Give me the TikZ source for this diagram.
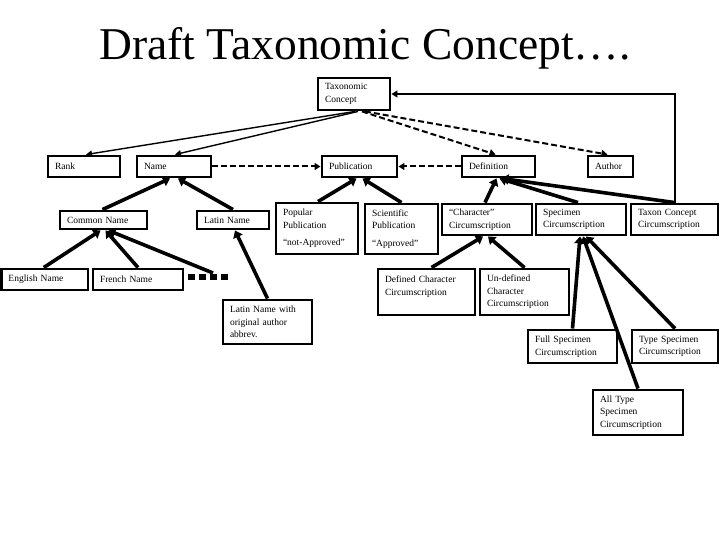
\documentclass[tikz,border=0pt]{standalone}
\usepackage{fontspec}
\setmainfont{Liberation Serif}
\usetikzlibrary{arrows.meta,calc}
\tikzset{
 boxst/.style={draw, line width=2.9pt, fill=white, align=left, inner xsep=7pt, inner ysep=0pt, font=\fontsize{9.5}{12.5}\selectfont},
 thickarrow/.style={line width=3.6pt, -{Triangle[length=7pt,width=10pt]}},
 thinarrow/.style={line width=1.4pt, -{Triangle[length=6pt,width=6pt]}},
 dasharrow/.style={line width=2pt, dash pattern=on 6pt off 3pt, -{Triangle[length=6pt,width=7pt]}},
 linkline/.style={line width=2pt, -{Triangle[length=6pt,width=7pt]}}
}
\newcommand\bx[6]{%
 \pgfmathsetmacro\myBW{#4-#2}\pgfmathsetmacro\myBH{#5-#3}\pgfmathsetmacro\myTW{#4-#2-14}%
 \node[boxst, minimum width=\myBW pt, minimum height=\myBH pt, text width=\myTW pt] (#1) at ({(#2+#4)/2},{(#3+#5)/2}) {#6};}
\begin{document}
\begin{tikzpicture}[x=1pt,y=-1pt]
\useasboundingbox (0,0) rectangle (720,540);
\node[font=\fontsize{45.5}{52}\selectfont, anchor=base] (title) at (365,60) {Draft Taxonomic Concept….};
\bx{tc}{318}{78}{390}{110}{Taxonomic\\Concept}
\bx{rank}{48}{156}{120}{177}{Rank}
\bx{name}{137}{156}{211}{177}{Name}
\bx{pub}{322}{156}{397}{177}{Publication}
\bx{defn}{462}{156}{535}{177}{Definition}
\bx{auth}{588}{156}{633}{177}{Author}
\bx{cn}{60}{211}{147}{229}{Common Name}
\bx{ln}{197}{211}{269}{229}{Latin Name}
\bx{pp}{276}{203}{358}{254}{Popular\\Publication\\[5pt]“not-Approved”}
\bx{sp}{365}{204}{438}{254}{Scientific\\Publication\\[5pt]“Approved”}
\bx{cc}{442}{204}{532}{235}{“Character”\\Circumscription}
\bx{spc}{536}{204}{626}{235}{Specimen\\Circumscription}
\bx{tcc}{631}{204}{718}{235}{Taxon Concept\\Circumscription}
\bx{en}{1.5}{269}{88}{290}{English Name}
\bx{fn}{93}{269}{183}{290}{French Name}
\bx{lna}{223}{300}{312}{344}{Latin Name with\\original author\\abbrev.}
\bx{dcc}{378}{269}{475}{315}{Defined Character\\Circumscription\\\mbox{}}
\bx{ucc}{480}{269}{569}{315}{Un-defined\\Character\\Circumscription}
\bx{fsc}{528}{330}{617}{363}{Full Specimen\\Circumscription}
\bx{tsc}{632}{330}{718}{363}{Type Specimen\\Circumscription}
\bx{atsc}{593}{390}{683}{435}{All Type\\Specimen\\Circumscription}
% dots
\foreach \i in {0,...,3} \fill ({188+\i*11},274) rectangle +(6.5,5.5);
\coordinate (dots) at (213,273);
% thin and dashed connectors
\draw[thinarrow] ([xshift=1pt]tc.south) -- ([xshift=2pt]rank.north);
\draw[thinarrow] ([xshift=4pt]tc.south) -- ([xshift=1pt]name.north);
\draw[dasharrow] ([xshift=8pt]tc.south) -- ([xshift=-3pt]defn.north);
\draw[dasharrow] ([xshift=11pt]tc.south) -- ([xshift=-3pt]auth.north);
\draw[dasharrow] (name.east) -- (pub.west);
\draw[dasharrow] (defn.west) -- (pub.east);
\draw[linkline] (tcc.north) |- (tc.east);
% thick arrows
\draw[thickarrow] ([xshift=-1pt]cn.north) -- ([xshift=-4pt]name.south);
\draw[thickarrow] (ln.north) -- ([xshift=4pt]name.south);
\draw[thickarrow] ([xshift=1pt]pp.north) -- ([xshift=-3pt]pub.south);
\draw[thickarrow] ([xshift=0pt]sp.north) -- ([xshift=3pt]pub.south);
\draw[thickarrow] ([xshift=-2pt]cc.north) -- ([xshift=-2pt]defn.south);
\draw[thickarrow] ([xshift=-3pt]spc.north) -- ([xshift=1pt]defn.south);
\draw[thickarrow] (tcc.north) -- ([xshift=3pt]defn.south);
\draw[thickarrow] ([xshift=-1pt]en.north) -- ([xshift=-3pt]cn.south);
\draw[thickarrow] ([xshift=0pt]fn.north) -- ([xshift=2pt]cn.south);
\draw[thickarrow] (dots) -- ([xshift=5pt]cn.south);
\draw[thickarrow] ([xshift=0pt]lna.north) -- ([xshift=2pt]ln.south);
\draw[thickarrow] ([xshift=5pt]dcc.north) -- ([xshift=-4pt]cc.south);
\draw[thickarrow] ([xshift=0pt]ucc.north) -- ([xshift=1pt]cc.south);
\draw[thickarrow] ([xshift=0pt]fsc.north) -- ([xshift=-1pt]spc.south);
\draw[thickarrow] ([xshift=0pt]atsc.north) -- ([xshift=2pt]spc.south);
\draw[thickarrow] ([xshift=0pt]tsc.north) -- ([xshift=5pt]spc.south);
\end{tikzpicture}
\end{document}
